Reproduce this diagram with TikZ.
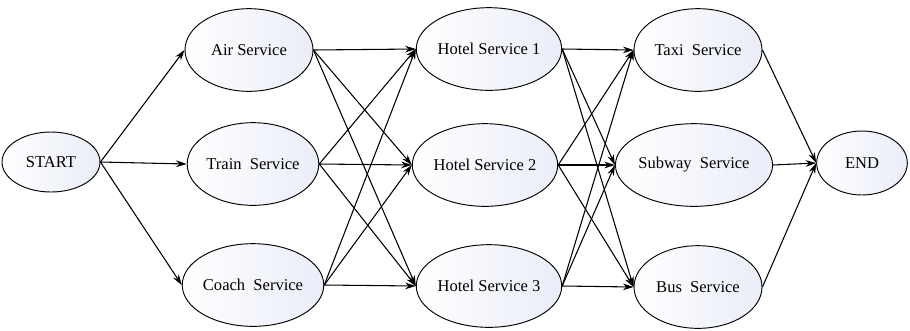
\documentclass[tikz,border=0pt]{standalone}
\usepackage{fontspec}
\setmainfont{Liberation Serif}
\usetikzlibrary{shapes.geometric,arrows.meta}
\definecolor{svcfill}{RGB}{234,237,248}

\tikzset{
  svc/.style={ellipse,draw,line width=0.7pt,left color=white,right color=svcfill,
    minimum width=96pt,minimum height=62pt,inner sep=0pt,
    font=\fontsize{12.4}{14}\selectfont},
  link/.style={-{Stealth[length=8pt,width=5pt]},line width=0.8pt}
}

\begin{document}
\begin{tikzpicture}[x=0.75pt,y=-0.75pt]
\useasboundingbox (0,0) rectangle (910,330);

\node[svc,minimum width=73.5pt,minimum height=45pt] (start) at (51,162) {START};

\node[svc] (air) at (249,50) {Air Service};
\node[svc] (train) at (253,164) {Train\ \ Service};
\node[svc] (coach) at (253,285) {Coach\ \ Service};

\node[svc] (hotel1) at (489,49) {Hotel Service 1};
\node[svc] (hotel2) at (485,165) {Hotel Service 2};
\node[svc] (hotel3) at (489,286) {Hotel Service 3};

\node[svc] (taxi) at (698,50) {Taxi\ \ Service};
\node[svc] (subway) at (694,165) {Subway\ \ Service};
\node[svc] (bus) at (698,287) {Bus\ \ Service};

\node[svc,minimum width=68pt,minimum height=48pt] (stop) at (862,163) {END};

\foreach \t in {air,train,coach}
  \draw[link] (start.east) -- (\t.west);
\foreach \s in {air,train,coach}
  \foreach \h in {hotel1,hotel2,hotel3}
    \draw[link] (\s.east) -- (\h.west);
\foreach \h in {hotel1,hotel2,hotel3}
  \foreach \t in {taxi,subway,bus}
    \draw[link] (\h.east) -- (\t.west);
\foreach \s in {taxi,subway,bus}
  \draw[link] (\s.east) -- (stop.west);
\end{tikzpicture}
\end{document}
